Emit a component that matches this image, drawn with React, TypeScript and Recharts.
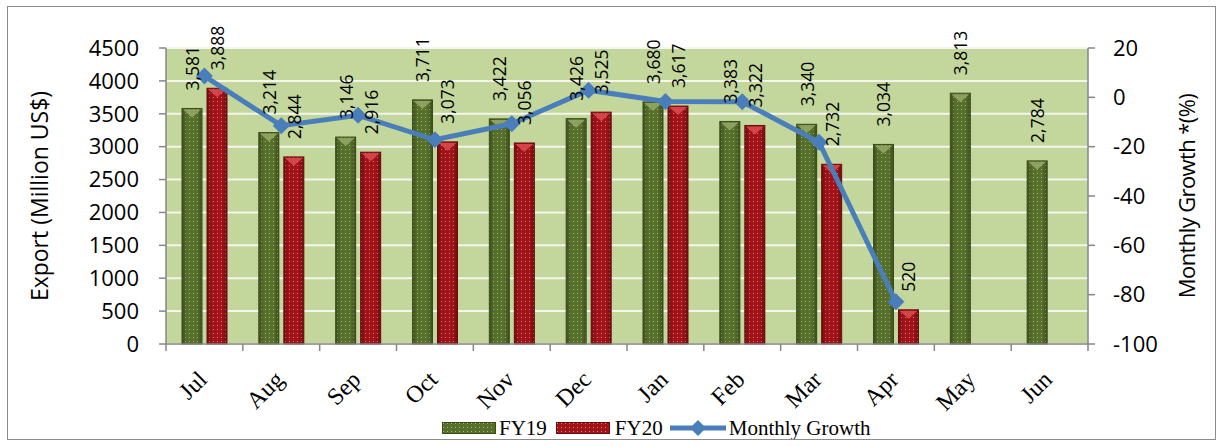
import {
  ComposedChart,
  Bar,
  Line,
  XAxis,
  YAxis,
  CartesianGrid,
  LabelList,
} from 'recharts'

const months = ['Jul', 'Aug', 'Sep', 'Oct', 'Nov', 'Dec', 'Jan', 'Feb', 'Mar', 'Apr', 'May', 'Jun']
const fy19 = [3581, 3214, 3146, 3711, 3422, 3426, 3680, 3383, 3340, 3034, 3813, 2784]
const fy20 = [3888, 2844, 2916, 3073, 3056, 3525, 3617, 3322, 2732, 520, null, null]
const growth = [8.6, -11.5, -7.3, -17.2, -10.7, 2.9, -1.7, -1.8, -18.2, -82.9, null, null]

const leftTicks = [0, 500, 1000, 1500, 2000, 2500, 3000, 3500, 4000, 4500]
const rightTicks = [-100, -80, -60, -40, -20, 0, 20]

const W = 1223
const H = 446
const PLOT_LEFT = 166
const PLOT_RIGHT = 1088
const BAND = (PLOT_RIGHT - PLOT_LEFT) / months.length

const AXIS = '#868686'
const SANS = "'Open Sans', sans-serif"
const SERIF = "'Liberation Serif', 'Times New Roman', serif"

const chartData = months.map((m, i) => ({
  month: m,
  fy19: fy19[i],
  fy20: fy20[i],
  growth: growth[i],
}))

const barStyles: any = {
  fy19: { edge: '#3a4d17', cap: '#95aa68' },
  fy20: { edge: '#6a0b0e', cap: '#db4d50' },
}

// patterned bar with the little bevel triangle on top
const TexturedBar = (props: any) => {
  const { x, y, width, height, kind } = props
  if (height == null || height <= 0) return null
  const s = barStyles[kind]
  const capH = Math.min(9, height)
  return (
    <g>
      <rect x={x} y={y} width={width} height={height} fill={`url(#pat-${kind})`} />
      <rect x={x} y={y} width={width} height={height} fill="url(#barShade)" />
      <polygon
        points={`${x + 1},${y + 1} ${x + width - 1},${y + 1} ${x + width / 2},${y + capH}`}
        fill={s.cap}
        opacity={0.85}
      />
      <rect x={x} y={y} width={width} height={height} fill="none" stroke={s.edge} strokeWidth={1} />
    </g>
  )
}

const BarValueLabel = (props: any) => {
  const { x, y, width, value } = props
  if (value == null) return null
  const cx = Number(x) + Number(width) / 2
  const ty = Number(y) - 18
  return (
    <text
      x={cx}
      y={ty}
      transform={`rotate(-90, ${cx}, ${ty})`}
      textAnchor="start"
      dominantBaseline="central"
      fontFamily={SANS}
      fontSize={17.5}
      fill="#000"
    >
      {Number(value).toLocaleString('en-US')}
    </text>
  )
}

const Diamond = (props: any) => {
  const { cx, cy, value } = props
  if (value == null || cx == null || cy == null) return null
  const r = 8.5
  return (
    <polygon
      points={`${cx},${cy - r} ${cx + r},${cy} ${cx},${cy + r} ${cx - r},${cy}`}
      fill="#4a7ebb"
    />
  )
}

const MonthTick = (props: any) => {
  const { x, y, payload, index } = props
  const ax = x + 4
  const ay = y + 37
  return (
    <g>
      <line x1={x - BAND / 2} x2={x - BAND / 2} y1={y} y2={y + 7} stroke={AXIS} strokeWidth={1.5} />
      {index === months.length - 1 && (
        <line x1={x + BAND / 2} x2={x + BAND / 2} y1={y} y2={y + 7} stroke={AXIS} strokeWidth={1.5} />
      )}
      <text
        x={ax}
        y={ay}
        transform={`rotate(-45, ${ax}, ${ay})`}
        textAnchor="end"
        fontFamily={SERIF}
        fontSize={24}
        fill="#000"
      >
        {payload.value}
      </text>
    </g>
  )
}

const Swatch = ({ kind }: { kind: string }) => (
  <svg width={54} height={12} style={{ display: 'block' }}>
    <rect x={0} y={0} width={54} height={12} fill={`url(#pat-${kind})`} />
    <rect x={0.5} y={0.5} width={53} height={11} fill="none" stroke={barStyles[kind].edge} />
  </svg>
)

export default function App() {
  const tickStyle = { fontFamily: SANS, fontSize: 22, fill: '#000' }

  return (
    <div style={{ position: 'absolute', left: 0, top: 0, width: W, height: H, background: '#fff' }}>
      <svg width={0} height={0} style={{ position: 'absolute' }}>
        <defs>
          <pattern id="pat-fy19" width={4} height={4} patternUnits="userSpaceOnUse">
            <rect width={4} height={4} fill="#566f2b" />
            <rect x={1} y={1} width={1} height={1} fill="#a3b873" />
          </pattern>
          <pattern id="pat-fy20" width={4} height={4} patternUnits="userSpaceOnUse">
            <rect width={4} height={4} fill="#a01318" />
            <rect x={1} y={1} width={1} height={1} fill="#de7a7a" />
          </pattern>
          <linearGradient id="barShade" x1="0" y1="0" x2="1" y2="0">
            <stop offset="0" stopColor="#000" stopOpacity={0.3} />
            <stop offset="0.25" stopColor="#000" stopOpacity={0} />
            <stop offset="0.75" stopColor="#000" stopOpacity={0} />
            <stop offset="1" stopColor="#000" stopOpacity={0.3} />
          </linearGradient>
        </defs>
      </svg>

      <ComposedChart
        width={W}
        height={H}
        data={chartData}
        margin={{ top: 48, right: 75, left: 106, bottom: 42 }}
        barGap={5}
      >
        <CartesianGrid
          yAxisId="left"
          horizontal
          vertical={false}
          stroke="#f4f6ee"
          strokeWidth={2}
          fill="#c3d69b"
          fillOpacity={1}
        />
        <XAxis
          dataKey="month"
          interval={0}
          height={60}
          tickLine={false}
          tickSize={0}
          tickMargin={0}
          axisLine={{ stroke: AXIS, strokeWidth: 1.5 }}
          tick={<MonthTick />}
        />
        <YAxis
          yAxisId="left"
          width={60}
          domain={[0, 4500]}
          ticks={leftTicks}
          interval={0}
          tickSize={7}
          tickMargin={20}
          axisLine={{ stroke: AXIS, strokeWidth: 1.5 }}
          tickLine={{ stroke: AXIS, strokeWidth: 1.5 }}
          tick={tickStyle}
          label={{
            value: 'Export (Million US$)',
            angle: -90,
            position: 'insideLeft',
            offset: -66,
            style: { textAnchor: 'middle', fontFamily: SANS, fontSize: 23, fill: '#000' },
          }}
        />
        <YAxis
          yAxisId="right"
          orientation="right"
          width={60}
          domain={[-100, 20]}
          ticks={rightTicks}
          interval={0}
          tickSize={7}
          tickMargin={18}
          axisLine={{ stroke: AXIS, strokeWidth: 1.5 }}
          tickLine={{ stroke: AXIS, strokeWidth: 1.5 }}
          tick={tickStyle}
          label={{
            value: 'Monthly Growth *(%)',
            angle: -90,
            position: 'insideRight',
            offset: -39,
            style: {
              textAnchor: 'middle',
              fontFamily: SANS,
              fontSize: 22,
              letterSpacing: -0.6,
              fill: '#000',
            },
          }}
        />
        <Bar
          yAxisId="left"
          dataKey="fy19"
          name="FY19"
          barSize={20}
          isAnimationActive={false}
          shape={(p: any) => <TexturedBar {...p} kind="fy19" />}
        >
          <LabelList dataKey="fy19" content={<BarValueLabel />} />
        </Bar>
        <Bar
          yAxisId="left"
          dataKey="fy20"
          name="FY20"
          barSize={20}
          isAnimationActive={false}
          shape={(p: any) => <TexturedBar {...p} kind="fy20" />}
        >
          <LabelList dataKey="fy20" content={<BarValueLabel />} />
        </Bar>
        <Line
          yAxisId="right"
          dataKey="growth"
          name="Monthly Growth"
          type="linear"
          stroke="#4a7ebb"
          strokeWidth={5}
          dot={<Diamond />}
          activeDot={false}
          isAnimationActive={false}
        />
      </ComposedChart>

      {/* legend */}
      <div
        style={{
          position: 'absolute',
          left: 442,
          top: 416,
          height: 24,
          display: 'flex',
          alignItems: 'center',
          fontFamily: SERIF,
          fontSize: 21,
          color: '#000',
          whiteSpace: 'nowrap',
        }}
      >
        <Swatch kind="fy19" />
        <span style={{ marginLeft: 3 }}>FY19</span>
        <span style={{ marginLeft: 9 }}>
          <Swatch kind="fy20" />
        </span>
        <span style={{ marginLeft: 5 }}>FY20</span>
        <svg width={56} height={18} style={{ marginLeft: 7, display: 'block' }}>
          <line x1={0} x2={56} y1={9} y2={9} stroke="#4a7ebb" strokeWidth={5} />
          <polygon points="28,1 36,9 28,17 20,9" fill="#4a7ebb" />
        </svg>
        <span style={{ marginLeft: 3 }}>Monthly Growth</span>
      </div>

      <div
        style={{
          position: 'absolute',
          left: 7,
          top: 6,
          width: 1209,
          height: 434,
          border: '1.5px solid #8c8c8c',
          boxSizing: 'border-box',
          pointerEvents: 'none',
        }}
      />
    </div>
  )
}
